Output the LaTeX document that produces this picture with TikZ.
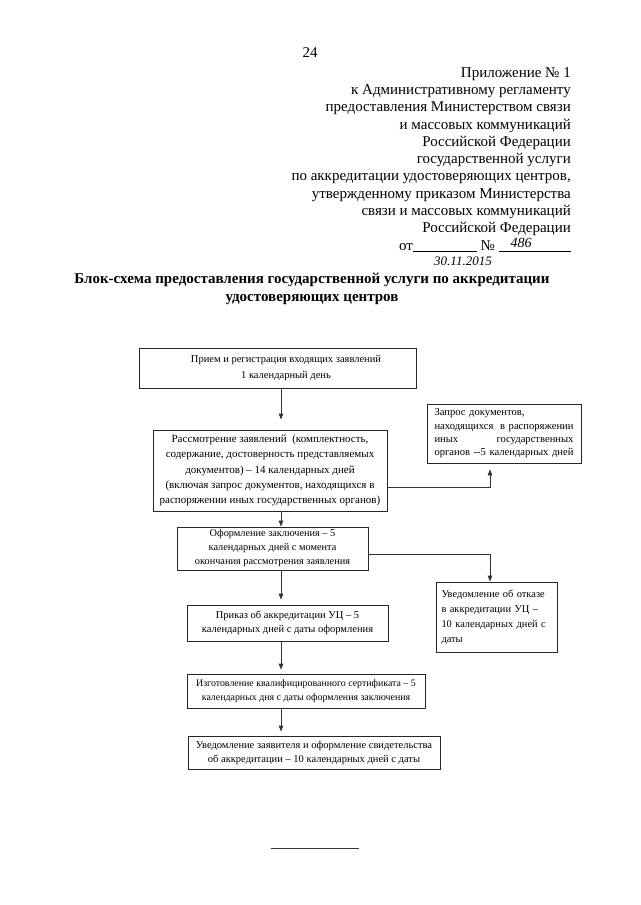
\documentclass[tikz,border=0pt]{standalone}
\usepackage{fontspec}
\setmainfont{Liberation Serif}
\usetikzlibrary{calc, arrows.meta}

\begin{document}
\begin{tikzpicture}[x=1pt, y=-1pt,
        box/.style={draw=black!85, line width=0.8pt, inner sep=0pt, align=center,
            font=\fontsize{10.5}{14}\selectfont},
        link/.style={draw=black!80, line width=0.8pt, arrows={-Triangle[length=6pt, width=4.5pt]}}]
    \useasboundingbox (0, 0) rectangle (640, 905);
    \node [font=\fontsize{15}{17.3}\selectfont] (page) at (310, 53) {24};
    \node [anchor=north east, align=right, inner sep=0pt, font=\fontsize{15}{17.3}\selectfont] (appx) at (571, 67)
        {Приложение № 1\\ к Административному регламенту\\ предоставления Министерством связи\\
         и массовых коммуникаций\\ Российской Федерации\\ государственной услуги\\
         по аккредитации удостоверяющих центров,\\ утвержденному приказом Министерства\\
         связи и массовых коммуникаций\\ Российской Федерации\\
         от\underline{\hspace{64pt}} № \underline{\hspace{72pt}}};
    \node [font=\itshape\fontsize{14}{14}\selectfont] (num) at (521, 243) {486};
    \node [font=\itshape\fontsize{13}{13}\selectfont] (date) at (463, 261) {30.11.2015};
    \node [align=center, font=\bfseries\fontsize{15}{18}\selectfont] (title) at (312, 289)
        {Блок-схема предоставления государственной услуги по аккредитации\\ удостоверяющих центров};
    \node [box, minimum width=277pt, minimum height=40pt, font=\fontsize{10.5}{16}\selectfont] (recv) at (277.5, 368)
        {\hspace*{17pt}Прием и регистрация входящих заявлений\\ \hspace*{17pt}1 календарный день};
    \node [box, minimum width=234pt, minimum height=81pt, font=\fontsize{11}{15.3}\selectfont] (review) at (270, 470.5)
        {Рассмотрение заявлений\ \ (комплектность,\\ содержание, достоверность представляемых\\
         документов) – 14 календарных дней\\ (включая запрос документов, находящихся в\\
         распоряжении иных государственных органов)};
    \node [box, minimum width=154pt, minimum height=59pt, align=left, text width=139pt,
        font=\fontsize{10.6}{13.3}\selectfont] (query) at (504, 433.5)
        {Запрос документов,\\ находящихся\hfill в распоряжении\\ иных\hfill государственных\\
         органов -{}-5 календарных дней};
    \node [box, minimum width=191pt, minimum height=43pt, font=\fontsize{10.3}{14}\selectfont] (concl) at (272.5, 548.5)
        {Оформление заключения – 5\\ календарных дней с момента\\ окончания рассмотрения заявления};
    \node [box, minimum width=121pt, minimum height=70pt, align=left, text width=110pt,
        font=\fontsize{10.4}{15}\selectfont] (refuse) at (496.5, 617)
        {Уведомление об отказе\\ в аккредитации УЦ –\\ 10 календарных дней с\\ даты};
    \node [box, minimum width=201pt, minimum height=36pt] (order) at (287.5, 623)
        {Приказ об аккредитации УЦ – 5\\ календарных дней с даты оформления};
    \node [box, minimum width=238pt, minimum height=34pt, font=\fontsize{9.9}{14}\selectfont] (cert) at (306, 691)
        {Изготовление квалифицированного сертификата – 5\\ календарных дня с даты оформления заключения};
    \node [box, minimum width=252pt, minimum height=33pt] (notice) at (314, 752.5)
        {Уведомление заявителя и оформление свидетельства\\ об аккредитации – 10 календарных дней с даты};
    \coordinate (axis) at (281, 0);
    \draw [link, shorten >=10pt] (recv.south -| axis) -- (review.north -| axis);
    \draw [link, shorten >=6pt] ([yshift=-16.5pt]review.east) -| ([xshift=-14pt]query.south);
    \draw [link] (review.south -| axis) -- (concl.north -| axis);
    \draw [link] ([yshift=-5.5pt]concl.east) -| ([xshift=-6.5pt]refuse.north);
    \draw [link, shorten >=5pt] (concl.south -| axis) -- (order.north -| axis);
    \draw [link, shorten >=4pt] (order.south -| axis) -- (cert.north -| axis);
    \draw [link, shorten >=4pt] (cert.south -| axis) -- (notice.north -| axis);
    \coordinate (rulel) at (271, 848);
    \coordinate (ruler) at (359, 848);
    \draw [line width=0.8pt, black!80] (rulel) -- (ruler);
\end{tikzpicture}
\end{document}
